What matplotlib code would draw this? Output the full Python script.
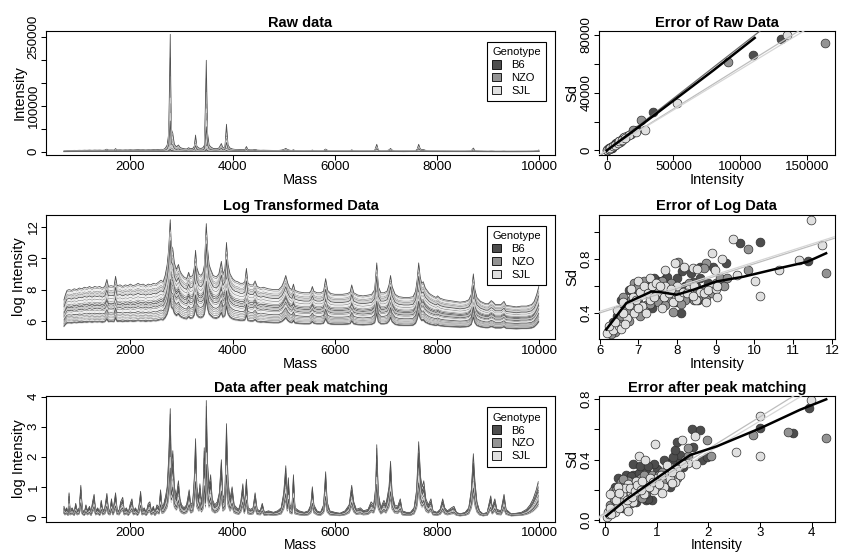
import numpy as np
import matplotlib
matplotlib.use("Agg")
import matplotlib.pyplot as plt
from matplotlib.patches import Patch

plt.rcParams['font.family'] = ['Liberation Sans', 'DejaVu Sans']

GENOTYPES = ["B6", "NZO", "SJL"]
GENO_COLORS = {"B6": "#4d4d4d", "NZO": "#939393", "SJL": "#e0e0e0"}

LOG_MASS = [700, 730, 760, 800, 850, 900, 950, 1000, 1050, 1100, 1150, 1200, 1250, 1300, 1350,
            1400, 1450, 1500, 1540, 1570, 1620, 1680, 1710, 1740, 1800, 1850, 1900, 1950, 2000,
            2050, 2100, 2150, 2200, 2250, 2300, 2350, 2400, 2450, 2500, 2560, 2600, 2640, 2680,
            2720, 2750, 2780, 2800, 2830, 2860, 2900, 2940, 2970, 3000, 3050, 3100, 3140, 3170,
            3220, 3250, 3275, 3300, 3340, 3380, 3420, 3450, 3485, 3510, 3540, 3570, 3620, 3680,
            3730, 3780, 3810, 3850, 3880, 3910, 3950, 4000, 4050, 4100, 4150, 4200, 4240, 4270,
            4300, 4350, 4400, 4440, 4480, 4550, 4600, 4700, 4800, 4900, 4960, 5000, 5040, 5080,
            5120, 5160, 5190, 5220, 5300, 5400, 5500, 5530, 5560, 5590, 5650, 5720, 5780, 5820,
            5860, 5920, 6000, 6080, 6150, 6250, 6300, 6330, 6370, 6450, 6550, 6650, 6720, 6780,
            6820, 6850, 6900, 6960, 7020, 7060, 7090, 7120, 7180, 7250, 7350, 7450, 7530, 7580,
            7610, 7640, 7670, 7700, 7730, 7770, 7850, 7920, 7980, 8010, 8060, 8150, 8250, 8350,
            8450, 8550, 8620, 8670, 8710, 8740, 8780, 8850, 8950, 9000, 9060, 9100, 9140, 9250,
            9310, 9350, 9450, 9550, 9650, 9750, 9850, 9900, 9950, 9990]
LOG_TOP = [7.35, 7.7, 7.95, 8.0, 7.95, 8.05, 8.0, 8.1, 8.05, 8.15, 8.1, 8.2, 8.1, 8.2, 8.15,
           8.2, 8.1, 8.2, 8.65, 8.2, 8.25, 8.2, 8.85, 8.25, 8.3, 8.2, 8.3, 8.25, 8.35,
           8.25, 8.3, 8.4, 8.3, 8.35, 8.25, 8.35, 8.3, 8.4, 8.35, 8.5, 8.6, 8.5, 8.9,
           9.6, 10.6, 12.45, 10.8, 10.6, 9.7, 9.3, 9.6, 9.2, 9.0, 8.8, 8.7, 9.1, 8.8,
           8.9, 9.4, 10.5, 9.4, 9.0, 8.9, 9.1, 9.6, 12.2, 10.6, 9.6, 9.3, 8.9, 8.8,
           9.0, 9.8, 9.0, 9.3, 11.0, 9.6, 9.0, 8.7, 8.55, 8.5, 8.4, 8.4, 8.5, 9.35,
           8.4, 8.3, 8.3, 8.55, 8.2, 8.1, 8.15, 8.05, 8.0, 8.0, 8.2, 8.5, 8.9, 8.4,
           8.1, 8.0, 8.35, 7.95, 7.85, 7.8, 7.8, 7.9, 8.2, 7.9, 7.8, 7.8, 7.9, 8.7,
           7.95, 7.75, 7.7, 7.7, 7.7, 7.75, 7.85, 8.3, 7.8, 7.65, 7.6, 7.65, 7.7, 8.0,
           9.7, 8.2, 7.8, 7.8, 7.9, 8.3, 8.9, 8.2, 7.7, 7.55, 7.5, 7.5, 7.55, 7.9,
           8.6, 9.7, 8.8, 8.4, 8.5, 8.1, 7.75, 7.6, 7.5, 7.6, 7.45, 7.35, 7.3, 7.25,
           7.2, 7.25, 7.35, 7.7, 9.0, 8.0, 7.5, 7.25, 7.1, 7.1, 7.3, 7.2, 7.05, 7.05,
           7.25, 7.0, 6.95, 6.9, 6.95, 6.95, 7.05, 7.25, 7.7, 8.2]
LOG_FLOOR = 4.75   # level the spectra converge towards
LOG_REF = 8.2      # baseline of LOG_TOP near 1500 Da

# spectra in drawing order: genotype, baseline log level near 1500 Da, peak-matched scale
SPEC_GENO = ["NZO", "SJL", "B6"] * 10
SPEC_LEVEL = [8.1, 8.0, 8.2, 7.9, 7.85, 7.1, 7.7, 7.6, 7.0, 7.4, 7.5, 6.9,
              7.2, 7.3, 6.8, 6.7, 6.6, 6.2, 6.4, 6.2, 6.0, 6.1, 5.9, 5.95,
              7.8, 7.7, 7.6, 6.3, 6.9, 6.5]
PM_SCALE = [0.95, 0.9, 1.0, 0.65, 0.6, 0.7, 0.5, 0.45, 0.5, 0.8, 0.75, 0.85,
            0.4, 0.35, 0.4, 0.6, 0.5, 0.6, 0.3, 0.3, 0.35, 0.7, 0.65, 0.55,
            0.45, 0.4, 0.75, 0.55, 0.55, 0.45]

PM_MASS = [700, 720, 750, 780, 800, 820, 860, 900, 930, 960, 1000, 1030, 1060, 1100, 1130,
           1160, 1200, 1230, 1260, 1290, 1320, 1360, 1400, 1430, 1460, 1500, 1540, 1570, 1600,
           1630, 1660, 1710, 1740, 1780, 1810, 1850, 1880, 1920, 1960, 2000, 2030, 2060, 2100,
           2140, 2170, 2200, 2230, 2270, 2310, 2350, 2380, 2410, 2450, 2480, 2520, 2560, 2590,
           2620, 2650, 2690, 2720, 2750, 2780, 2800, 2830, 2860, 2900, 2940, 2970, 3000, 3050,
           3100, 3150, 3180, 3220, 3250, 3275, 3300, 3340, 3360, 3390, 3420, 3445, 3470, 3485,
           3510, 3540, 3570, 3600, 3650, 3700, 3740, 3780, 3810, 3850, 3880, 3910, 3950, 3990,
           4030, 4080, 4120, 4160, 4200, 4230, 4270, 4300, 4350, 4400, 4440, 4480, 4540, 4580,
           4620, 4700, 4800, 4880, 4950, 5000, 5040, 5070, 5090, 5120, 5160, 5190, 5220, 5300,
           5400, 5480, 5530, 5560, 5590, 5650, 5720, 5780, 5820, 5850, 5900, 6000, 6100, 6200,
           6280, 6330, 6370, 6420, 6500, 6560, 6650, 6710, 6760, 6800, 6820, 6850, 6900, 6960,
           7000, 7060, 7090, 7120, 7170, 7230, 7280, 7320, 7400, 7480, 7550, 7600, 7640, 7680,
           7710, 7740, 7780, 7830, 7880, 7920, 8000, 8060, 8110, 8150, 8200, 8280, 8330, 8380,
           8450, 8550, 8620, 8670, 8710, 8740, 8780, 8830, 8900, 8980, 9050, 9080, 9130, 9170,
           9250, 9310, 9350, 9450, 9550, 9650, 9750, 9820, 9880, 9940, 9980]
PM_TOP = [0.35, 0.2, 0.3, 0.15, 0.8, 0.2, 0.3, 0.15, 0.45, 0.2, 0.3, 1.05, 0.25, 0.15, 0.4,
          0.2, 0.35, 0.15, 0.5, 0.75, 0.2, 0.3, 0.15, 0.55, 0.2, 0.3, 0.78, 0.25, 0.2,
          0.6, 0.2, 0.8, 0.25, 0.2, 0.5, 0.65, 0.2, 0.3, 0.15, 0.45, 0.6, 0.2, 0.3,
          0.15, 0.4, 0.85, 0.2, 0.3, 0.15, 0.45, 0.5, 0.2, 0.35, 0.15, 0.4, 0.3, 0.9,
          0.35, 0.4, 0.7, 1.0, 2.0, 3.6, 1.6, 2.2, 1.0, 0.7, 1.2, 0.6, 0.4, 0.3,
          0.4, 0.9, 0.4, 0.5, 1.3, 2.6, 1.0, 0.6, 1.1, 0.5, 0.8, 2.3, 1.0, 3.87,
          1.8, 1.0, 1.4, 0.6, 0.4, 0.5, 0.8, 1.9, 0.6, 0.8, 3.1, 1.2, 0.6, 1.0,
          0.4, 0.3, 0.25, 0.5, 1.1, 0.35, 1.25, 0.3, 0.25, 0.3, 0.8, 0.25, 0.2, 0.45,
          0.15, 0.2, 0.15, 0.2, 0.3, 0.8, 1.7, 0.6, 1.3, 0.4, 0.3, 1.4, 0.3, 0.2,
          0.15, 0.2, 0.4, 1.0, 0.4, 0.2, 0.15, 0.4, 1.5, 0.5, 0.2, 0.15, 0.12, 0.2,
          0.4, 1.05, 0.5, 0.25, 0.3, 0.2, 0.25, 0.5, 0.4, 1.0, 2.4, 0.8, 0.3, 0.55,
          0.4, 1.0, 1.85, 0.8, 0.4, 0.35, 0.6, 0.2, 0.15, 0.15, 0.3, 0.9, 2.5, 1.3,
          1.0, 1.2, 0.6, 0.4, 0.6, 0.2, 0.15, 0.25, 0.6, 0.3, 0.2, 0.3, 0.35, 0.15,
          0.1, 0.15, 0.3, 0.9, 2.1, 1.2, 0.5, 0.2, 0.1, 0.15, 0.7, 0.3, 0.6, 0.25,
          0.2, 0.75, 0.25, 0.1, 0.12, 0.15, 0.25, 0.4, 0.6, 0.9, 1.17]

# error plots: mean intensity vs sd of each peak, per genotype
RAW_X = {"B6": [1000, 3000, 6000, 9000, 12000, 4000, 7000, 14000, 2000, 23000, 35000, 110000,
                131000],
         "NZO": [500, 2000, 5000, 8000, 15000, 11000, 3000, 6500, 9500, 12500, 18000, 20000,
                 26000, 90700, 164000],
         "SJL": [300, 1500, 4000, 7000, 10000, 13000, 17000, 2000, 2500, 5000, 6000, 8500,
                 9500, 11500, 14000, 22000, 28700, 52500, 135500]}
RAW_Y = {"B6": [700, 2000, 4200, 6300, 8000, 2000, 5000, 9000, 1300, 14500, 26500, 66300,
                77300],
         "NZO": [400, 1500, 3000, 5200, 10000, 6500, 2200, 4000, 5800, 8500, 11500, 14500,
                 21000, 61300, 74500],
         "SJL": [200, 900, 2600, 4300, 6000, 9500, 11000, 1200, 1800, 3200, 3500, 5000,
                 6500, 7500, 8500, 12500, 14200, 33100, 79800]}
RAW_SMOOTH_X = [0, 20000, 50000, 80000, 111000]
RAW_SMOOTH_Y = [0, 13500, 34500, 55500, 78000]
RAW_FIT = {"B6": (0.0, 0.72), "NZO": (0.0, 0.575), "SJL": (0.0, 0.56)}

LOGE_X = {"B6": [6.3, 6.6, 6.9, 7.2, 7.5, 7.8, 8.1, 8.5, 8.8, 7.0, 7.6, 8.3, 8.9, 6.45, 7.3, 8.0,
                 8.6, 8.1, 6.55, 6.75, 7.05, 7.4, 7.7, 8.2, 8.4, 8.75, 9.05, 7.35, 7.95, 8.55,
                 6.35, 9.63, 10.13, 9.26, 8.94, 11.37, 8.35, 8.59, 8.12, 7.74],
          "NZO": [6.25, 6.5, 6.8, 7.1, 7.4, 7.7, 8.0, 8.4, 8.7, 9.0, 6.7, 7.2, 7.8, 8.2, 8.6,
                  9.1, 6.9, 7.5, 6.4, 6.3, 6.55, 6.6, 6.85, 7.0, 7.15, 7.3, 7.6, 7.7, 7.85,
                  8.1, 8.3, 8.45, 8.75, 8.9, 9.2, 7.05, 6.75, 9.84, 8.76, 8.69, 11.85, 9.83,
                  9.28, 7.9, 8.03],
          "SJL": [6.2, 6.35, 6.5, 6.7, 6.9, 7.1, 7.3, 7.5, 7.7, 8.0, 8.3, 8.6, 8.9, 6.6, 6.8,
                  7.0, 7.3, 7.9, 8.5, 6.55, 7.2, 7.6, 6.25, 6.4, 6.45, 6.6, 6.75, 6.85, 6.95,
                  7.05, 7.15, 7.25, 7.35, 7.45, 7.55, 7.65, 7.8, 7.85, 8.05, 8.15, 8.25, 8.4,
                  8.45, 8.7, 8.8, 9.0, 7.4, 7.0, 6.65, 11.47, 9.45, 8.89, 9.15, 8.98, 11.74,
                  11.15, 10.64, 10.02, 10.15, 9.04, 8.74, 9.04, 9.54, 7.68, 7.94, 8.18, 8.42,
                  8.52]}
LOGE_Y = {"B6": [0.3, 0.45, 0.55, 0.62, 0.64, 0.6, 0.58, 0.6, 0.62, 0.48, 0.52, 0.52, 0.58,
                 0.38, 0.58, 0.66, 0.66, 0.4, 0.5, 0.57, 0.63, 0.66, 0.65, 0.6, 0.63, 0.56,
                 0.6, 0.44, 0.48, 0.5, 0.33, 0.923, 0.928, 0.775, 0.74, 0.788, 0.7, 0.74,
                 0.71, 0.667],
          "NZO": [0.28, 0.35, 0.5, 0.58, 0.62, 0.57, 0.55, 0.56, 0.58, 0.62, 0.42, 0.46, 0.5,
                  0.5, 0.53, 0.66, 0.62, 0.48, 0.26, 0.24, 0.38, 0.52, 0.45, 0.6, 0.64, 0.47,
                  0.64, 0.46, 0.62, 0.47, 0.62, 0.5, 0.52, 0.55, 0.6, 0.38, 0.34, 0.874,
                  0.775, 0.733, 0.7, 0.72, 0.66, 0.405, 0.78],
          "SJL": [0.25, 0.27, 0.3, 0.36, 0.4, 0.45, 0.5, 0.56, 0.6, 0.6, 0.58, 0.56, 0.6,
                  0.48, 0.58, 0.64, 0.66, 0.48, 0.5, 0.28, 0.4, 0.44, 0.3, 0.33, 0.42, 0.4,
                  0.46, 0.52, 0.5, 0.56, 0.6, 0.55, 0.6, 0.62, 0.6, 0.52, 0.55, 0.58, 0.52,
                  0.56, 0.55, 0.53, 0.6, 0.55, 0.57, 0.58, 0.52, 0.44, 0.32, 1.096, 0.955,
                  0.844, 0.8, 0.72, 0.906, 0.795, 0.72, 0.635, 0.523, 0.518, 0.48, 0.6, 0.68,
                  0.72, 0.775, 0.745, 0.733, 0.726]}
LOGE_SMOOTH_X = [6.17, 6.69, 7.34, 7.55, 7.99, 8.42, 9.02, 9.71, 10.58, 11.35, 11.85]
LOGE_SMOOTH_Y = [0.277, 0.474, 0.56, 0.556, 0.536, 0.573, 0.635, 0.67, 0.73, 0.78, 0.845]
LOGE_FIT = {"NZO": (-0.151, 0.0918), "SJL": (-0.139, 0.0918)}

PME_X = {"B6": [0.1, 0.3, 0.45, 0.6, 0.8, 1.0, 1.2, 1.4, 0.35, 0.7, 1.1, 1.5, 0.4, 0.55, 0.9,
                0.8, 0.2, 0.25, 0.5, 0.65, 0.95, 1.15, 1.3, 1.45, 0.6, 1.25, 0.15, 0.55, 0.68,
                0.84, 1.32, 1.35, 1.39, 1.69, 1.83, 1.71, 1.87, 1.97, 3.0, 3.63, 3.94, 0.84,
                0.82],
       "NZO": [0.05, 0.2, 0.35, 0.5, 0.7, 0.9, 1.1, 1.3, 1.55, 0.25, 0.6, 1.0, 1.4, 0.15, 0.3,
               0.1, 0.18, 0.22, 0.4, 0.45, 0.65, 0.75, 0.85, 1.05, 1.2, 1.25, 1.45, 0.5, 0.8,
               1.6, 0.35, 1.61, 1.97, 2.06, 2.87, 3.55, 4.28, 0.77, 0.71, 1.13],
       "SJL": [0.03, 0.08, 0.15, 0.25, 0.35, 0.5, 0.65, 0.8, 1.0, 1.2, 1.4, 1.6, 0.2, 0.4, 0.55,
               0.75, 0.95, 1.15, 1.35, 0.3, 0.45, 0.6, 0.18, 0.05, 0.1, 0.12, 0.22, 0.28,
               0.33, 0.38, 0.42, 0.48, 0.52, 0.58, 0.62, 0.7, 0.72, 0.85, 0.88, 0.92, 1.05,
               1.08, 1.25, 1.3, 1.45, 1.5, 1.1, 0.25, 0.1, 0.45, 0.28, 0.65, 0.77, 0.97,
               1.48, 1.74, 1.77, 2.53, 2.99, 2.99, 3.99, 1.29, 1.19]}
PME_Y = {"B6": [0.05, 0.15, 0.28, 0.3, 0.32, 0.34, 0.38, 0.4, 0.08, 0.2, 0.25, 0.35, 0.3,
                0.3, 0.13, 0.13, 0.22, 0.28, 0.29, 0.31, 0.37, 0.4, 0.38, 0.43, 0.12, 0.22,
                0.1, 0.37, 0.355, 0.355, 0.417, 0.46, 0.513, 0.6, 0.596, 0.486, 0.4, 0.416,
                0.61, 0.575, 0.74, 0.136, 0.195],
       "NZO": [0.03, 0.12, 0.22, 0.25, 0.28, 0.3, 0.32, 0.35, 0.4, 0.18, 0.15, 0.22, 0.28,
               0.19, 0.25, 0.1, 0.14, 0.2, 0.19, 0.26, 0.24, 0.3, 0.26, 0.3, 0.26, 0.35,
               0.36, 0.11, 0.18, 0.42, 0.27, 0.476, 0.53, 0.42, 0.564, 0.58, 0.54, 0.17,
               0.147, 0.257],
       "SJL": [0.02, 0.04, 0.07, 0.1, 0.14, 0.18, 0.22, 0.25, 0.28, 0.3, 0.34, 0.38, 0.05,
               0.1, 0.12, 0.17, 0.2, 0.22, 0.25, 0.2, 0.24, 0.26, 0.17, 0.05, 0.08, 0.04,
               0.13, 0.08, 0.17, 0.21, 0.13, 0.21, 0.15, 0.19, 0.23, 0.2, 0.26, 0.22, 0.28,
               0.25, 0.24, 0.3, 0.27, 0.32, 0.3, 0.37, 0.18, 0.22, 0.17, 0.06, 0.18, 0.42,
               0.4, 0.505, 0.53, 0.557, 0.37, 0.45, 0.69, 0.42, 0.795, 0.246, 0.366]}
PME_SMOOTH_X = [0.03, 0.42, 1.06, 1.65, 2.16, 3.0, 3.77, 4.28]
PME_SMOOTH_Y = [0.026, 0.136, 0.29, 0.43, 0.487, 0.607, 0.73, 0.80]
PME_FIT = {"NZO": (0.045, 0.213), "SJL": (0.035, 0.207)}
FIT_COLORS = {"B6": "#6a6a6a", "NZO": "#bdbdbd", "SJL": "#d6d6d6"}

W, H = 841, 553
fig = plt.figure(figsize=(W / 100, H / 100), dpi=100)


def add_axes(left, top, width, height):
    return fig.add_axes([left / W, 1 - (top + height) / H, width / W, height / H])


def style(ax, xticks, xlabels, yticks, ylabels, xlabel, ylabel, title, xpad=0, xsize=10.5):
    ax.set_xticks(xticks)
    ax.set_xticklabels(xlabels)
    ax.set_yticks(yticks)
    ax.set_yticklabels(ylabels, rotation=90, va='center')
    ax.tick_params(direction='out', length=3.3, width=0.75, labelsize=9.5, pad=1)
    ax.set_xlabel(xlabel, fontsize=xsize, labelpad=xpad)
    ax.set_ylabel(ylabel, fontsize=10.5, labelpad=1)
    ax.set_title(title, fontsize=10.5, fontweight='bold', pad=3)
    for s in ax.spines.values():
        s.set_linewidth(0.8)


def add_legend(ax):
    handles = [Patch(facecolor=GENO_COLORS[g], edgecolor='black', linewidth=0.6, label=g)
               for g in GENOTYPES]
    leg = ax.legend(handles=handles, title="Genotype", loc='upper right',
                    bbox_to_anchor=(1 - 9 / 509.7, 1 - 11 / 124.4), borderaxespad=0,
                    fontsize=8, title_fontsize=8, fancybox=False, framealpha=1,
                    edgecolor='black', handlelength=0.8, handleheight=0.8,
                    handletextpad=0.9, labelspacing=0.25, borderpad=0.5)
    leg.get_frame().set_linewidth(0.8)
    leg._legend_box.align = "left"


mass = np.array(LOG_MASS)
log_top = np.array(LOG_TOP)
pm_mass = np.array(PM_MASS)
pm_top = np.array(PM_TOP)
spectra = [LOG_FLOOR + (log_top - LOG_FLOOR) * (lev - LOG_FLOOR) / (LOG_REF - LOG_FLOOR)
           for lev in SPEC_LEVEL]

mass_ticks = [2000, 4000, 6000, 8000, 10000]
mass_labels = [str(m) for m in mass_ticks]
BOTTOM_TOP = 396.0   # top pixel of the last row of panels

# --- raw data
ax = add_axes(45.7, 30.7, 509.7, 124.4)
for g, sp in zip(SPEC_GENO, spectra):
    ax.plot(mass, np.exp(sp), color=GENO_COLORS[g], lw=0.55)
ax.set_xlim(343, 10315)
ax.set_ylim(-7200, 263000)
style(ax, mass_ticks, mass_labels, [0, 50000, 100000, 150000, 200000, 250000],
      ['0', '', '100000', '', '', '250000'], "Mass", "Intensity", "Raw data")
add_legend(ax)

# --- log data
ax = add_axes(45.7, 214.5, 509.7, 124.5)
for g, sp in zip(SPEC_GENO, spectra):
    ax.plot(mass, sp, color=GENO_COLORS[g], lw=0.55)
ax.set_xlim(343, 10315)
ax.set_ylim(4.855, 12.78)
style(ax, mass_ticks, mass_labels, [6, 8, 10, 12], ['6', '8', '10', '12'],
      "Mass", "log Intensity", "Log Transformed Data")
add_legend(ax)

# --- peak matched
ax = add_axes(45.7, BOTTOM_TOP, 509.7, 125.5)
for g, sc in zip(SPEC_GENO, PM_SCALE):
    ax.plot(pm_mass, pm_top * sc, color=GENO_COLORS[g], lw=0.55)
ax.set_xlim(343, 10315)
ax.set_ylim(-0.155, 4.02)
style(ax, mass_ticks, mass_labels, [0, 1, 2, 3, 4], ['0', '1', '2', '3', '4'],
      "Mass", "log Intensity", "Data after peak matching", xpad=-1, xsize=10)
add_legend(ax)


def error_panel(top, height, xs, ys, sx, sy, fits, xlim, ylim, xt, xl, yt, yl, title,
                xpad=0, xsize=10.5):
    ax = add_axes(598.5, top, 236.5, height)
    for g in GENOTYPES:
        ax.scatter(xs[g], ys[g], s=40, facecolor=GENO_COLORS[g], edgecolor='#303030',
                   linewidth=0.5, zorder=2)
    xx = np.array(xlim)
    for g, (a, b) in fits.items():
        ax.plot(xx, a + b * xx, color=FIT_COLORS[g], lw=0.9, zorder=3)
    ax.plot(sx, sy, color='black', lw=1.8, zorder=4)
    ax.set_xlim(*xlim)
    ax.set_ylim(*ylim)
    style(ax, xt, xl, yt, yl, "Intensity", "Sd", title, xpad=xpad, xsize=xsize)
    return ax


error_panel(30.7, 124.4, RAW_X, RAW_Y, RAW_SMOOTH_X, RAW_SMOOTH_Y, RAW_FIT,
            (-6150, 171250), (-3200, 83000), [0, 50000, 100000, 150000],
            ['0', '50000', '100000', '150000'], [0, 20000, 40000, 60000, 80000],
            ['0', '', '40000', '', '80000'], "Error of Raw Data")
error_panel(214.5, 124.5, LOGE_X, LOGE_Y, LOGE_SMOOTH_X, LOGE_SMOOTH_Y, LOGE_FIT,
            (5.97, 12.08), (0.206, 1.134), [6, 7, 8, 9, 10, 11, 12],
            ['6', '7', '8', '9', '10', '11', '12'], [0.4, 0.6, 0.8, 1.0],
            ['0.4', '', '0.8', ''], "Error of Log Data")
error_panel(BOTTOM_TOP, 125.5, PME_X, PME_Y, PME_SMOOTH_X, PME_SMOOTH_Y, PME_FIT,
            (-0.126, 4.45), (-0.012, 0.822), [0, 1, 2, 3, 4], ['0', '1', '2', '3', '4'],
            [0.0, 0.2, 0.4, 0.6, 0.8], ['0.0', '', '0.4', '', '0.8'],
            "Error after peak matching", xpad=-1, xsize=10)

fig.savefig("out.png", dpi=100)
